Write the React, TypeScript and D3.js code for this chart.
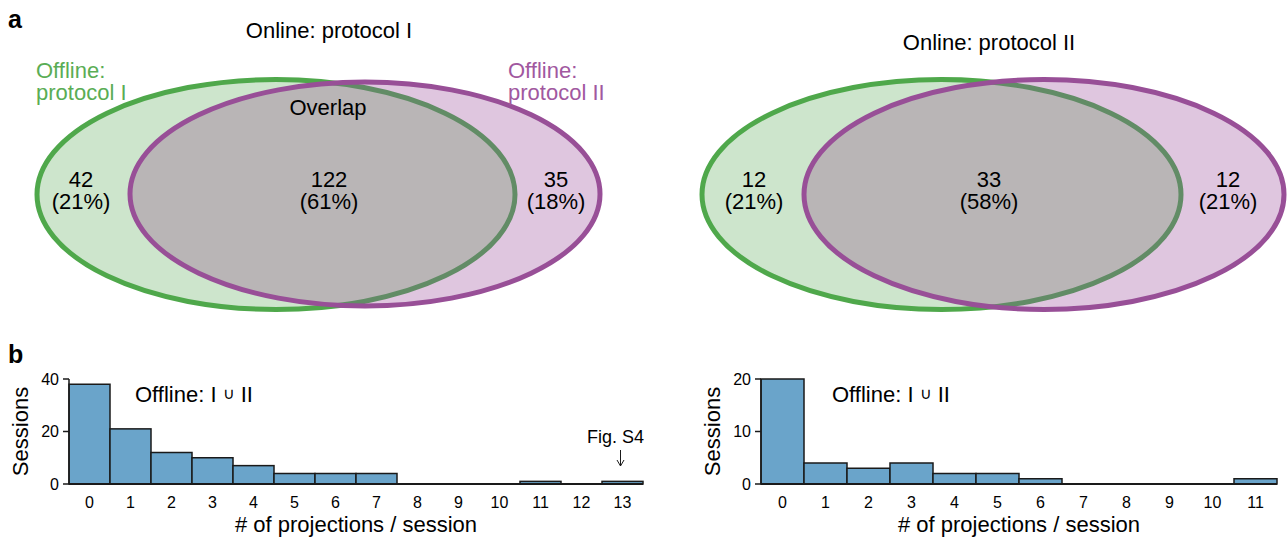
import * as d3 from 'd3';

// Venn counts and percentage labels (panel a)
const vennTitles = ['Online: protocol I', 'Online: protocol II'];
const onlyI = [42, 12];
const overlap = [122, 33];
const onlyII = [35, 12];
const onlyIPct = ['21%', '21%'];
const overlapPct = ['61%', '58%'];
const onlyIIPct = ['18%', '21%'];

// Histograms (panel b)
const binsLeft = d3.range(0, 14);
const countsLeft = [38, 21, 12, 10, 7, 4, 4, 4, 0, 0, 0, 1, 0, 1];
const ticksLeft = [0, 20, 40];
const binsRight = d3.range(0, 12);
const countsRight = [20, 4, 3, 4, 2, 2, 1, 0, 0, 0, 0, 1];
const ticksRight = [0, 10, 20];

const FONT = 'Liberation Sans, Arial, Helvetica, sans-serif';
const FS = 22;
const GREEN = '#4fa84b';
const GREEN_FILL = '#cde5cc';
const GREEN_MUTED = '#628c66';
const PURPLE = '#984f97';
const PURPLE_FILL = '#dfc6df';
const GREY = '#b9b5b6';
const BAR = '#6aa4ca';

type Ell = { cx: number; cy: number; rx: number; ry: number };

const vennLayout = [
  {
    g: { cx: 276, cy: 194.5, rx: 239, ry: 115 },
    p: { cx: 365, cy: 194, rx: 235, ry: 112 },
    titleX: 329, titleY: 38,
    xs: [81, 329, 556],
    offline: true,
  },
  {
    g: { cx: 941.5, cy: 194.5, rx: 239.5, ry: 115 },
    p: { cx: 1044, cy: 194.5, rx: 240, ry: 115 },
    titleX: 989, titleY: 50,
    xs: [754, 989, 1228],
    offline: false,
  },
];

function Venn({ i }: { i: number }) {
  const L = vennLayout[i];
  const g: Ell = L.g;
  const p: Ell = L.p;
  const labels = [
    [onlyI[i], onlyIPct[i]],
    [overlap[i], overlapPct[i]],
    [onlyII[i], onlyIIPct[i]],
  ];
  return (
    <g>
      <defs>
        <clipPath id={`clipG${i}`}>
          <ellipse cx={g.cx} cy={g.cy} rx={g.rx} ry={g.ry} />
        </clipPath>
        <clipPath id={`clipP${i}`}>
          <ellipse cx={p.cx} cy={p.cy} rx={p.rx} ry={p.ry} />
        </clipPath>
      </defs>
      <ellipse cx={g.cx} cy={g.cy} rx={g.rx} ry={g.ry} fill={GREEN_FILL} stroke={GREEN} strokeWidth={5} />
      <ellipse cx={p.cx} cy={p.cy} rx={p.rx} ry={p.ry} fill={PURPLE_FILL} />
      <ellipse cx={p.cx} cy={p.cy} rx={p.rx} ry={p.ry} fill={GREY} clipPath={`url(#clipG${i})`} />
      <ellipse cx={g.cx} cy={g.cy} rx={g.rx} ry={g.ry} fill="none" stroke={GREEN_MUTED} strokeWidth={5} clipPath={`url(#clipP${i})`} />
      <ellipse cx={p.cx} cy={p.cy} rx={p.rx} ry={p.ry} fill="none" stroke={PURPLE} strokeWidth={5} />
      <text x={L.titleX} y={L.titleY} textAnchor="middle" fontSize={FS}>{vennTitles[i]}</text>
      {labels.map((d, j) => (
        <text key={j} x={L.xs[j]} textAnchor="middle" fontSize={FS}>
          <tspan x={L.xs[j]} y={187}>{d[0]}</tspan>
          <tspan x={L.xs[j]} y={209}>({d[1]})</tspan>
        </text>
      ))}
      {L.offline && (
        <>
          <text x={328} y={115} textAnchor="middle" fontSize={FS}>Overlap</text>
          <text fontSize={FS} fill="#5aad55">
            <tspan x={36} y={78}>Offline:</tspan>
            <tspan x={36} y={100}>protocol I</tspan>
          </text>
          <text fontSize={FS} fill="#a158a0">
            <tspan x={508} y={78}>Offline:</tspan>
            <tspan x={508} y={100}>protocol II</tspan>
          </text>
        </>
      )}
    </g>
  );
}

interface HistProps {
  bins: number[];
  counts: number[];
  ticks: number[];
  x0: number;
  x1: number;
  labelX: number;
  note?: boolean;
}

function Hist({ bins, counts, ticks, x0, x1, labelX, note }: HistProps) {
  const y0 = 484;
  const yTop = 379;
  const x = d3.scaleBand<number>().domain(bins).range([x0, x1]).padding(0);
  const y = d3.scaleLinear().domain([0, d3.max(ticks)!]).range([y0, yTop]);
  const last = bins[bins.length - 1];
  const ax = x(last)! + x.bandwidth() / 2 - 2;
  return (
    <g>
      {counts.map((c, k) => (
        <rect
          key={k}
          x={x(bins[k])}
          y={y(c)}
          width={x.bandwidth()}
          height={y0 - y(c)}
          fill={BAR}
          stroke="#1a1a1a"
          strokeWidth={1.5}
        />
      ))}
      <line x1={x0} x2={x1} y1={y0} y2={y0} stroke="#1a1a1a" strokeWidth={2} />
      <line x1={x0} x2={x0} y1={y0} y2={yTop} stroke="#1a1a1a" strokeWidth={1.5} />
      {ticks.map(t => (
        <g key={t}>
          <line x1={x0 - 6} x2={x0} y1={y(t)} y2={y(t)} stroke="#1a1a1a" strokeWidth={1.5} />
          <text x={x0 - 10} y={y(t)} dy="0.36em" textAnchor="end" fontSize={16}>{t}</text>
        </g>
      ))}
      {bins.map(b => (
        <text key={b} x={x(b)! + x.bandwidth() / 2} y={508} textAnchor="middle" fontSize={16}>{b}</text>
      ))}
      <text x={(x0 + x1) / 2} y={532} textAnchor="middle" fontSize={FS}># of projections / session</text>
      <text transform={`translate(${x0 - 41},${(y0 + yTop) / 2}) rotate(-90)`} textAnchor="middle" fontSize={FS}>Sessions</text>
      <text x={labelX} y={402} fontSize={FS}>
        Offline: I  <tspan fontSize={16} dy={-3}>∪</tspan><tspan dy={3}>  II</tspan>
      </text>
      {note && (
        <>
          <text x={ax - 5} y={443} textAnchor="middle" fontSize={18}>Fig. S4</text>
          <line x1={ax} x2={ax} y1={450} y2={466} stroke="#1a1a1a" strokeWidth={1} />
          <path d={`M${ax - 3.5},${460} L${ax},${466} L${ax + 3.5},${460}`} fill="none" stroke="#1a1a1a" strokeWidth={1} />
        </>
      )}
    </g>
  );
}

export default function App() {
  return (
    <svg
      width={1288}
      height={544}
      style={{ position: 'absolute', left: 0, top: 0, background: '#fff' }}
      fontFamily={FONT}
    >
      <text x={8} y={28} fontSize={25} fontWeight="bold">a</text>
      <text x={8} y={363} fontSize={25} fontWeight="bold">b</text>
      <Venn i={0} />
      <Venn i={1} />
      <Hist bins={binsLeft} counts={countsLeft} ticks={ticksLeft} x0={69} x1={643} labelX={135} note />
      <Hist bins={binsRight} counts={countsRight} ticks={ticksRight} x0={761} x1={1277} labelX={832} />
    </svg>
  );
}
